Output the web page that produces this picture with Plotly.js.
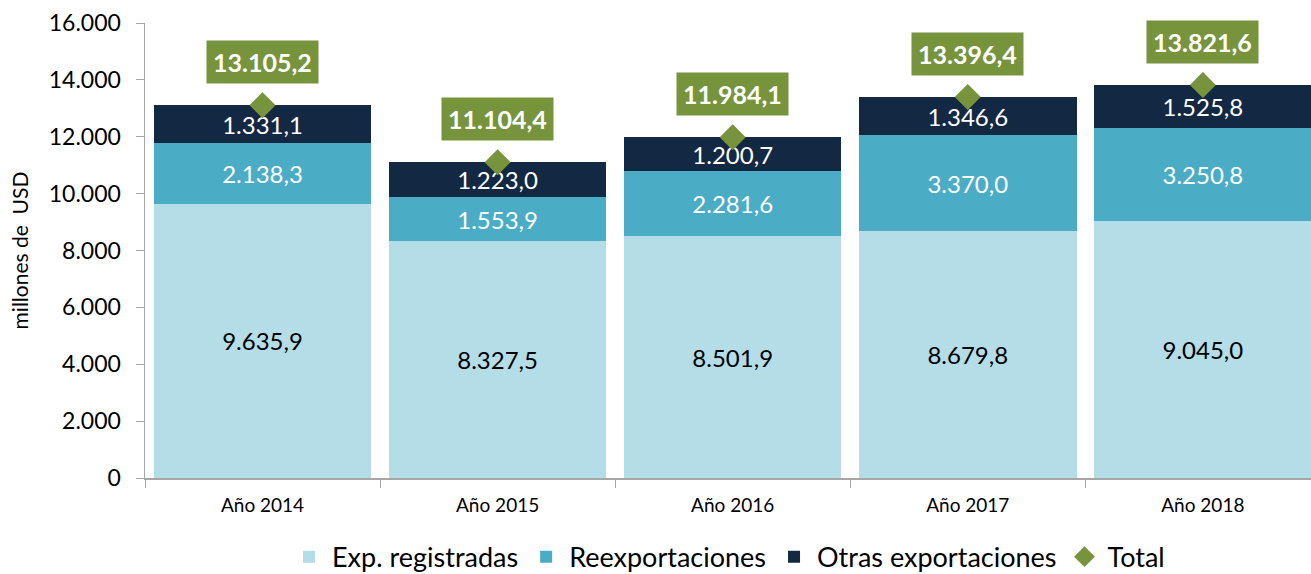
<!DOCTYPE html>
<html>
<head>
<meta charset="utf-8">
<script src="https://cdn.plot.ly/plotly-3.0.1.min.js"></script>
<style>html,body{margin:0;padding:0;background:#fff;}#chart{width:1311px;height:574px;}</style>
</head>
<body>
<div id="chart"></div>
<script>
const categories = ["Año 2014", "Año 2015", "Año 2016", "Año 2017", "Año 2018"];
const expRegistradas = [9635.9, 8327.5, 8501.9, 8679.8, 9045.0];
const reexportaciones = [2138.3, 1553.9, 2281.6, 3370.0, 3250.8];
const otrasExportaciones = [1331.1, 1223.0, 1200.7, 1346.6, 1525.8];
const total = [13105.2, 11104.4, 11984.1, 13396.4, 13821.6];

const FONT = "Lato, 'Open Sans', sans-serif";
const GREEN = "#77933C";

function barTrace(name, vals, color, txtColor) {
  return {
    type: "bar", name: name, x: categories, y: vals,
    marker: {color: color},
    texttemplate: "%{y:,.1f}", textposition: "inside", insidetextanchor: "middle",
    textangle: 0, constraintext: "none",
    textfont: {family: FONT, size: 24, color: txtColor},
    hoverinfo: "skip"
  };
}

const traces = [
  barTrace("Exp. registradas", expRegistradas, "#B5DDE8", "#000000"),
  barTrace("Reexportaciones", reexportaciones, "#4BACC6", "#FFFFFF"),
  barTrace("Otras exportaciones", otrasExportaciones, "#132843", "#FFFFFF"),
  {type: "scatter", mode: "markers", name: "Total", x: categories, y: total,
   marker: {symbol: "diamond", size: 20, color: GREEN}, hoverinfo: "skip"}
];

const annotations = categories.map((c, i) => ({
  x: c, y: total[i], xref: "x", yref: "y",
  text: "<b>" + total[i].toLocaleString("de-DE", {minimumFractionDigits: 1, maximumFractionDigits: 1}) + "</b>",
  showarrow: false, yshift: 43, bgcolor: GREEN, borderpad: 6,
  font: {family: FONT, size: 25, color: "#FFFFFF"}
}));

const layout = {
  width: 1311, height: 574,
  margin: {l: 145, r: 0, t: 23, b: 96, autoexpand: false},
  paper_bgcolor: "#FFFFFF", plot_bgcolor: "#FFFFFF",
  separators: ",.",
  barmode: "stack", bargap: 0.075,
  showlegend: true,
  legend: {orientation: "h", x: 0.5, xanchor: "center", y: -0.174, yanchor: "middle",
           font: {family: FONT, size: 27, color: "#000"}, traceorder: "normal", itemwidth: 36},
  xaxis: {
    type: "category", range: [-0.5, 4.46], automargin: false,
    showline: true, linecolor: "#A6A6A6", linewidth: 1.5,
    ticks: "outside", tickson: "boundaries", ticklen: 8, tickcolor: "#A6A6A6",
    ticklabelstandoff: 10,
    tickfont: {family: FONT, size: 19, color: "#000"},
    showgrid: false, zeroline: false, fixedrange: true
  },
  yaxis: {
    range: [0, 16000], dtick: 2000, tickformat: ",d", automargin: false,
    showline: true, linecolor: "#A6A6A6", linewidth: 1.5,
    ticks: "outside", ticklen: 8, tickcolor: "#A6A6A6",
    ticklabelstandoff: 10,
    tickfont: {family: FONT, size: 23, color: "#000"},
    showgrid: false, zeroline: false,
    title: {text: "millones de  USD", font: {family: FONT, size: 21, color: "#000"}, standoff: 14},
    fixedrange: true
  },
  annotations: annotations
};

Plotly.newPlot("chart", traces, layout, {staticPlot: true, displayModeBar: false});
</script>
</body>
</html>
